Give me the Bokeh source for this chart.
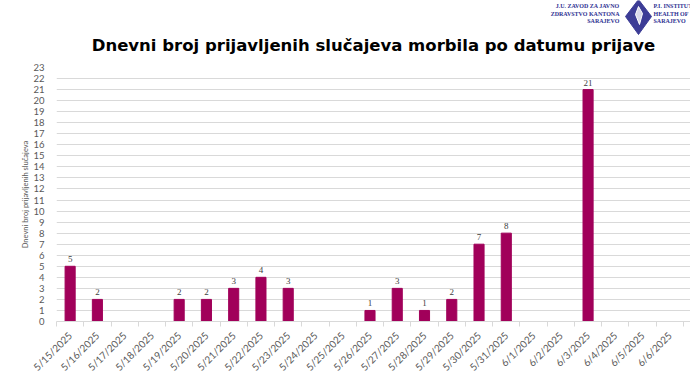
from bokeh.plotting import figure
from bokeh.layouts import column
from bokeh.models import Range1d, FixedTicker, ColumnDataSource, LabelSet
from bokeh.core.properties import value
from bokeh.embed import file_html
from bokeh.resources import INLINE
from math import pi

dates = ["5/15/2025", "5/16/2025", "5/17/2025", "5/18/2025", "5/19/2025", "5/20/2025",
         "5/21/2025", "5/22/2025", "5/23/2025", "5/24/2025", "5/25/2025", "5/26/2025",
         "5/27/2025", "5/28/2025", "5/29/2025", "5/30/2025", "5/31/2025", "6/1/2025",
         "6/2/2025", "6/3/2025", "6/4/2025", "6/5/2025", "6/6/2025", "6/7/2025"]
cases = [5, 2, 0, 0, 2, 2, 3, 4, 3, 0, 0, 1, 3, 1, 2, 7, 8, 0, 0, 21, 0, 0, 0, 0]
y_ticks = list(range(0, 24))

title_text = "Dnevni broj prijavljenih slučajeva morbila po datumu prijave"
y_label = "Dnevni broj prijavljenih slučajeva"
logo_left = ["J.U. ZAVOD ZA JAVNO", "ZDRAVSTVO KANTONA", "SARAJEVO"]
logo_right = ["P.I. INSTITUTE", "HEALTH OF", "SARAJEVO"]

xs = list(range(len(dates)))
bar_text = [str(c) if c > 0 else "" for c in cases]
src = ColumnDataSource(dict(x=xs, y=cases, t=bar_text))

FONT = "Lato"
BAR = "#a1005a"
LOGO = "#2e3192"

W, H = 690, 388
HH = 60                            # header height
FL, FT, FB = 56, 67, 321           # frame left / top / bottom in page pixels
STEP = 27.26                       # pixels per category
x_end = -0.5 + (W - FL) / STEP

# ---- header (title + logo); its frame is aligned with the chart frame (x from FL to W) ----
hd = figure(width=W, height=HH, output_backend="svg", toolbar_location=None,
            x_range=Range1d(FL, W), y_range=Range1d(HH, 0),
            min_border_left=FL, min_border_right=0, min_border_top=0, min_border_bottom=0)
hd.axis.visible = False
hd.grid.visible = False
hd.outline_line_color = None

hd.text(x=[373], y=[44.5], text=[title_text], text_align="center", text_baseline="alphabetic",
        text_font=value("DejaVu Sans"), text_font_style="bold", text_font_size="16.5px",
        text_color="black")
hd.text(x=[619] * 3, y=[5.1, 13.1, 20.9], text=logo_left, text_align="right",
        text_baseline="alphabetic", text_font=value("Liberation Serif"), text_font_style="bold",
        text_font_size="6px", text_color=LOGO)
hd.text(x=[653] * 3, y=[5.1, 13.1, 20.9], text=logo_right, text_align="left",
        text_baseline="alphabetic", text_font=value("Liberation Serif"), text_font_style="bold",
        text_font_size="6px", text_color=LOGO)
hd.patch(x=[638, 651, 638, 625], y=[-1, 16, 34, 16], fill_color="#3c3c96",
         line_color="#3c3c96")
hd.patch(x=[638, 642, 639, 635], y=[6, 13, 24, 14], fill_color="white", line_color="white",
         fill_alpha=0.8)

# ---- main chart ----
p = figure(width=W, height=H - HH, output_backend="svg", toolbar_location=None,
           x_range=Range1d(-0.5, x_end), y_range=Range1d(0, 23),
           min_border_left=FL, min_border_right=0, min_border_top=FT - HH,
           min_border_bottom=H - FB)
p.outline_line_color = None
p.background_fill_color = "white"

p.vbar(x="x", top="y", width=0.37, source=src, fill_color=BAR, line_color=BAR)
p.add_layout(LabelSet(x="x", y="y", text="t", source=src, y_offset=4, text_align="center",
                      text_baseline="bottom", text_font=FONT, text_font_size="9px",
                      text_color="#404040"))

p.xgrid.grid_line_color = None
p.ygrid.grid_line_color = "#d9d9d9"
p.ygrid.ticker = FixedTicker(ticks=y_ticks)

xa = p.xaxis[0]
xa.ticker = FixedTicker(ticks=xs, minor_ticks=[i - 0.5 for i in xs] + [len(xs) - 0.5])
xa.major_label_overrides = {i: d for i, d in enumerate(dates)}
xa.major_label_orientation = pi / 4
xa.major_tick_line_color = None
xa.minor_tick_line_color = "#d9d9d9"
xa.minor_tick_in = 0
xa.minor_tick_out = 5
xa.axis_line_color = "#d9d9d9"
xa.major_label_text_font = FONT
xa.major_label_text_font_size = "10px"
xa.major_label_text_color = "#595959"
xa.major_label_standoff = 6

ya = p.yaxis[0]
ya.ticker = FixedTicker(ticks=y_ticks)
ya.axis_line_color = None
ya.major_tick_line_color = None
ya.minor_tick_line_color = None
ya.major_label_text_font = FONT
ya.major_label_text_font_size = "9.5px"
ya.major_label_text_color = "#595959"
ya.major_label_standoff = 6
ya.axis_label = y_label
ya.axis_label_text_font = FONT
ya.axis_label_text_font_size = "7.5px"
ya.axis_label_text_font_style = "normal"
ya.axis_label_text_color = "#595959"
ya.axis_label_standoff = 0

layout = column(hd, p, spacing=0)
open("out.html", "w").write(file_html(layout, INLINE))
